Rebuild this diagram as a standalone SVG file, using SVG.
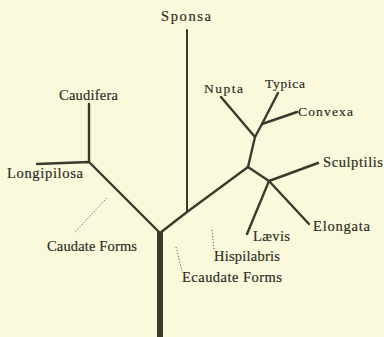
<svg xmlns="http://www.w3.org/2000/svg" width="384" height="337" viewBox="0 0 384 337">
<style>
.bg{fill:#fbf9dc}
.br{stroke:#3b3a2c;stroke-width:2.4;fill:none;stroke-linecap:round;stroke-linejoin:round}
.thin{stroke-width:2}
.trunk{stroke:#3b3a2c;stroke-width:6;fill:none}
.dot{stroke:#5a5a48;stroke-width:1;stroke-dasharray:1.2 1.8;fill:none}
text{font-family:"Liberation Serif","Times New Roman",serif;font-size:14.5px;fill:#2e2e24;stroke:#2e2e24;stroke-width:0.2}
.s{font-size:13.5px}
</style>
<rect class="bg" x="0" y="0" width="384" height="337"/>
<g id="connectors">
<line class="trunk" x1="160" y1="232" x2="160" y2="337"/>
<polyline class="br" points="160,233 89,162 37,164"/>
<line class="br" x1="89" y1="162" x2="89" y2="104"/>
<polyline class="br" points="160,233 187,212 248,167"/>
<line class="br thin" x1="187" y1="212" x2="187" y2="30"/>
<polyline class="br" points="248,167 255,137 221,97"/>
<polyline class="br" points="255,137 262,124 278,93"/>
<line class="br" x1="262" y1="124" x2="297" y2="112"/>
<polyline class="br" points="248,167 269,181 318,163"/>
<line class="br" x1="269" y1="181" x2="247" y2="234"/>
<line class="br" x1="269" y1="181" x2="309" y2="224"/>
<line class="dot" x1="107" y1="198" x2="74" y2="233"/>
<line class="dot" x1="176" y1="247" x2="182" y2="271"/>
<line class="dot" x1="212" y1="230" x2="214" y2="250"/>
</g>
<g id="sponsa"><text x="161" y="21" textLength="50" lengthAdjust="spacing">Sponsa</text></g>
<g id="caudifera"><text x="59" y="100" textLength="59" lengthAdjust="spacing">Caudifera</text></g>
<g id="longipilosa"><text x="7" y="178" textLength="76" lengthAdjust="spacing">Longipilosa</text></g>
<g id="nupta"><text class="s" x="204" y="93" textLength="39" lengthAdjust="spacing">Nupta</text></g>
<g id="typica"><text class="s" x="265" y="88" textLength="40" lengthAdjust="spacing">Typica</text></g>
<g id="convexa"><text class="s" x="298" y="116" textLength="55" lengthAdjust="spacing">Convexa</text></g>
<g id="sculptilis"><text x="323" y="167" textLength="60" lengthAdjust="spacing">Sculptilis</text></g>
<g id="laevis"><text x="253" y="241" textLength="37" lengthAdjust="spacing">Lævis</text></g>
<g id="elongata"><text x="313" y="231" textLength="57" lengthAdjust="spacing">Elongata</text></g>
<g id="hispilabris"><text x="214" y="261" textLength="66" lengthAdjust="spacing">Hispilabris</text></g>
<g id="ecaudate"><text x="182" y="282" textLength="100" lengthAdjust="spacing">Ecaudate Forms</text></g>
<g id="caudate"><text x="47" y="251" textLength="90" lengthAdjust="spacing">Caudate Forms</text></g>
</svg>
